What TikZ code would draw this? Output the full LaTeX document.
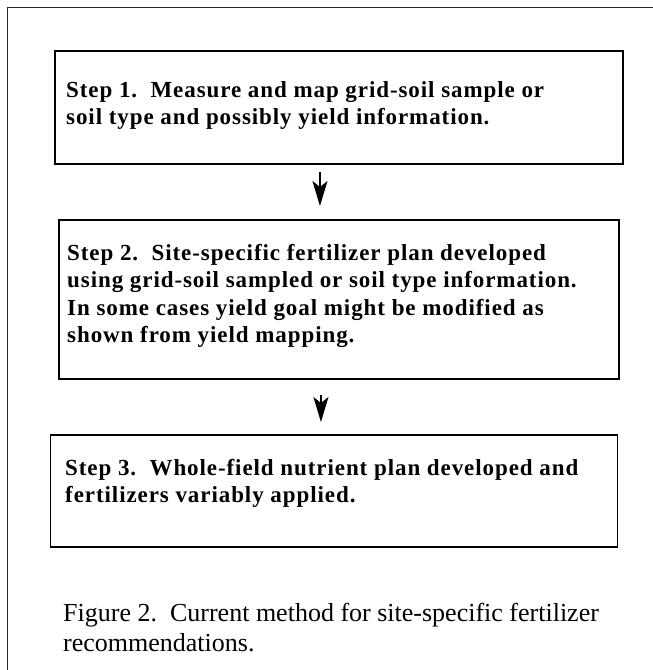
\documentclass[tikz,border=0pt]{standalone}
\usepackage{fontspec}
\setmainfont{Liberation Serif}
\newfontfamily\boxfont[LetterSpace=4]{Liberation Serif}
\usetikzlibrary{arrows.meta}
\begin{document}
\begin{tikzpicture}[x=1pt,y=-1pt,
  stepbox/.style={draw=black, line width=1.9pt, inner sep=0pt, anchor=north west},
  steptext/.style={anchor=north west, inner sep=0pt, align=left, font=\boxfont\fontsize{23}{27.5}\selectfont\bfseries},
  captext/.style={anchor=north west, inner sep=0pt, align=left, font=\fontsize{26}{30}\selectfont},
  flow/.style={line width=1.3pt, -{Stealth[length=25pt,width=15pt,inset=6pt]}},
  frame/.style={draw=black!85, line width=1.6pt}]
\useasboundingbox (0,0) rectangle (653,670);
% outer frame
\coordinate (ftl) at (7.5,7.5);
\coordinate (ftr) at (653,7.5);
\coordinate (fbl) at (7.5,670);
\draw[frame] (ftr) -- (ftl) -- (fbl);
% boxes
\node[stepbox, minimum width=568pt, minimum height=113pt] (b1) at (54,50) {};
\node[stepbox, minimum width=560pt, minimum height=159pt] (b2) at (58,219) {};
\node[stepbox, minimum width=567pt, minimum height=112pt] (b3) at (49.5,434) {};
% texts
\node[steptext] (t1) at (66,81) {Step 1.\ \ Measure and map grid-soil sample or\\soil type and possibly yield information.};
\node[steptext] (t2) at (67,244) {Step 2.\ \ Site-specific fertilizer plan developed\\using grid-soil sampled or soil type information.\\In some cases yield goal might be modified as\\shown from yield mapping.};
\node[steptext] (t3) at (65,459) {Step 3.\ \ Whole-field nutrient plan developed and\\fertilizers variably applied.};
\node[captext] (cap) at (63,603) {Figure 2.\ \ Current method for site-specific fertilizer\\recommendations.};
% arrows
\draw[flow] ([xshift=-19pt,yshift=-7pt]b1.south) -- ([xshift=-19pt,yshift=13pt]b2.north);
\draw[flow] ([xshift=-18pt,yshift=-15pt]b2.south) -- ([xshift=-13pt,yshift=12pt]b3.north);
\end{tikzpicture}
\end{document}
